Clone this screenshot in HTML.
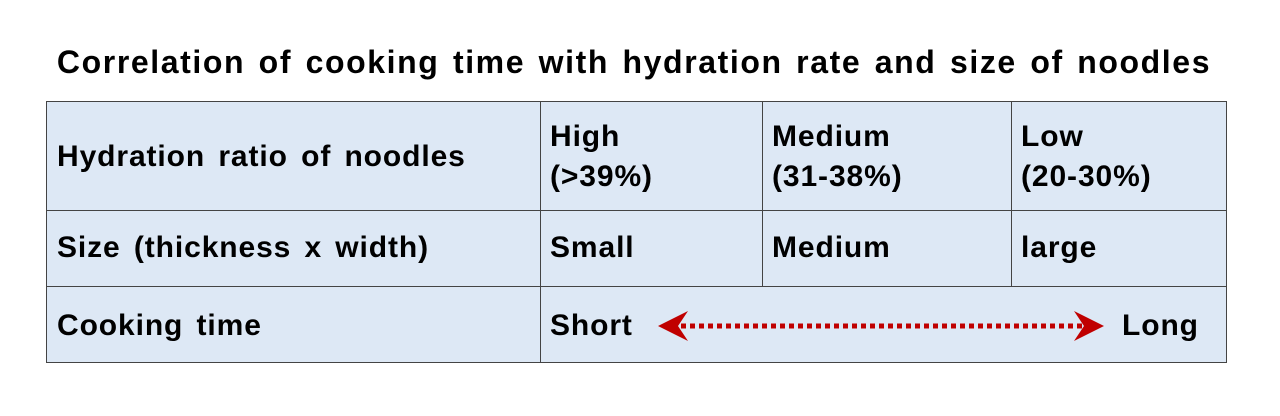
<!DOCTYPE html>
<html><head><meta charset="utf-8"><style>
body{margin:0;width:1280px;height:416px;background:#fff;font-family:"Liberation Sans",sans-serif;position:relative;overflow:hidden}
.t{position:absolute;font-weight:bold;color:#000;white-space:nowrap}
.c{position:absolute;background:#dde8f5;border:1px solid #444;box-sizing:border-box}
.x{font-size:30px;line-height:40px;letter-spacing:0.9px;word-spacing:4px}
</style></head><body>
<div class="t" style="left:0;width:1268px;top:44px;text-align:center;font-size:32px;letter-spacing:1.6px;word-spacing:3px">Correlation of cooking time with hydration rate and size of noodles</div>
<div>
<div class="c" style="left:46px;top:101px;width:495px;height:110px"></div>
<div class="c" style="left:540px;top:101px;width:223px;height:110px"></div>
<div class="c" style="left:762px;top:101px;width:250px;height:110px"></div>
<div class="c" style="left:1011px;top:101px;width:216px;height:110px"></div>
<div class="c" style="left:46px;top:210px;width:495px;height:77px"></div>
<div class="c" style="left:540px;top:210px;width:223px;height:77px"></div>
<div class="c" style="left:762px;top:210px;width:250px;height:77px"></div>
<div class="c" style="left:1011px;top:210px;width:216px;height:77px"></div>
<div class="c" style="left:46px;top:286px;width:495px;height:77px"></div>
<div class="c" style="left:540px;top:286px;width:687px;height:77px"></div>
</div>
<div class="t x" style="left:57px;top:137px">Hydration ratio of noodles</div>
<div class="t x" style="left:550px;top:117px">High<br>(&gt;39%)</div>
<div class="t x" style="left:772px;top:117px">Medium<br>(31-38%)</div>
<div class="t x" style="left:1021px;top:117px">Low<br>(20-30%)</div>
<div class="t x" style="left:57px;top:228px">Size (thickness x width)</div>
<div class="t x" style="left:550px;top:228px">Small</div>
<div class="t x" style="left:772px;top:228px">Medium</div>
<div class="t x" style="left:1021px;top:228px">large</div>
<div class="t x" style="left:57px;top:306px">Cooking time</div>
<div class="t x" style="left:550px;top:306px">Short</div>
<div class="t x" style="left:1122px;top:306px">Long</div>
<svg style="position:absolute;left:0;top:0" width="1280" height="416">
<line x1="672" y1="326" x2="1090" y2="326" stroke="#c00000" stroke-width="5" stroke-dasharray="5,4"/>
<polygon points="658,326 688,311 678,326 688,341" fill="#c00000"/>
<polygon points="1104,326 1074,311 1084,326 1074,341" fill="#c00000"/>
</svg>
</body></html>
